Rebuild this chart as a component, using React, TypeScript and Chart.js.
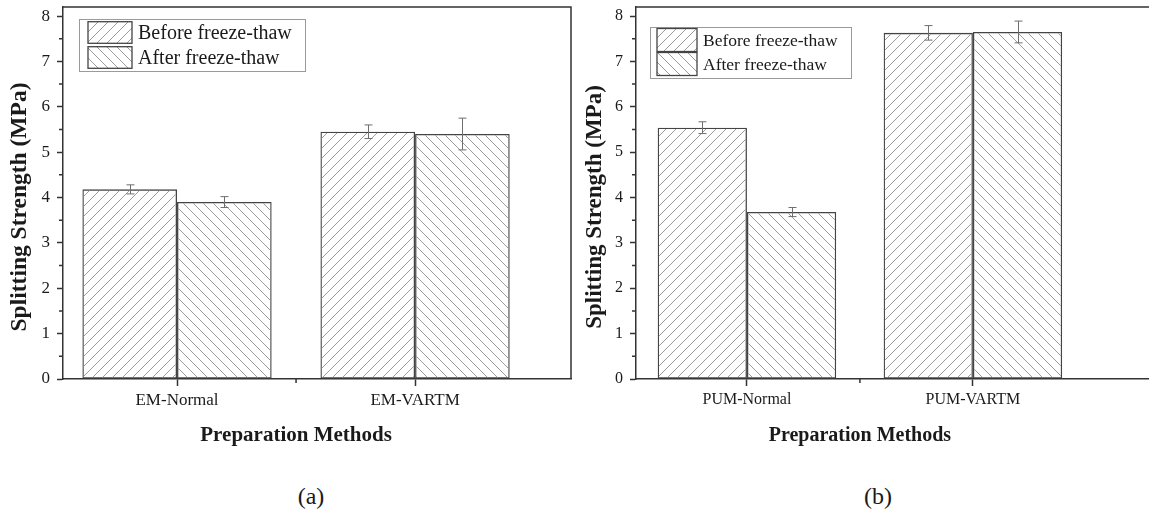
import React, { useEffect, useRef } from "react";
import { Chart, registerables } from "chart.js";
Chart.register(...registerables);

// ---------- data ----------
const seriesLabels = ["Before freeze-thaw", "After freeze-thaw"];
const yTickValues = [0, 1, 2, 3, 4, 5, 6, 7, 8];
const xAxisTitle = "Preparation Methods";
const yAxisTitle = "Splitting Strength (MPa)";

const catsA = ["EM-Normal", "EM-VARTM"];
const beforeA = [4.18, 5.45];
const beforeErrA = [0.1, 0.15];
const afterA = [3.9, 5.4];
const afterErrA = [0.12, 0.35];

const catsB = ["PUM-Normal", "PUM-VARTM"];
const beforeB = [5.54, 7.63];
const beforeErrB = [0.13, 0.16];
const afterB = [3.68, 7.65];
const afterErrB = [0.1, 0.24];

const panelLabels = ["(a)", "(b)"];

const FONT = '"Liberation Serif", "Times New Roman", serif';

function makeHatch(dir: number) {
  const s = 10;
  const c = document.createElement("canvas");
  c.width = s;
  c.height = s;
  const g = c.getContext("2d")!;
  g.strokeStyle = "#9c9c9c";
  g.lineWidth = 1;
  g.beginPath();
  for (const o of [-s, 0, s]) {
    if (dir > 0) {
      g.moveTo(o - 1, s + 1);
      g.lineTo(o + s + 1, -1);
    } else {
      g.moveTo(o - 1, -1);
      g.lineTo(o + s + 1, s + 1);
    }
  }
  g.stroke();
  return g.createPattern(c, "repeat")!;
}

const decor = {
  id: "decor",
  afterDatasetsDraw(chart: any, _args: any, opts: any) {
    const { ctx } = chart;
    const y = chart.scales.y;
    ctx.save();
    ctx.strokeStyle = "#6e6e6e";
    ctx.lineWidth = 1;
    opts.errors.forEach((errs: number[], di: number) => {
      const meta = chart.getDatasetMeta(di);
      meta.data.forEach((bar: any, j: number) => {
        const v = chart.data.datasets[di].data[j].y;
        const top = y.getPixelForValue(v + errs[j]);
        const bot = y.getPixelForValue(v - errs[j]);
        const cx = Math.round(bar.x) + 0.5;
        ctx.beginPath();
        ctx.moveTo(cx, top);
        ctx.lineTo(cx, bot);
        ctx.moveTo(cx - 4, top);
        ctx.lineTo(cx + 4, top);
        ctx.moveTo(cx - 4, bot);
        ctx.lineTo(cx + 4, bot);
        ctx.stroke();
      });
    });
    ctx.restore();
  },
  afterDraw(chart: any, _args: any, opts: any) {
    const { ctx, chartArea: a } = chart;
    const x = chart.scales.x;
    const y = chart.scales.y;
    ctx.save();
    // frame top/right
    ctx.strokeStyle = "#333";
    ctx.lineWidth = 1.5;
    ctx.beginPath();
    ctx.moveTo(a.left, a.top);
    ctx.lineTo(a.right, a.top);
    ctx.lineTo(a.right, a.bottom);
    ctx.stroke();
    // minor ticks
    ctx.beginPath();
    for (let i = 0; i < yTickValues.length - 1; i++) {
      const v = (yTickValues[i] + yTickValues[i + 1]) / 2;
      const py = y.getPixelForValue(v);
      ctx.moveTo(a.left - 4, py);
      ctx.lineTo(a.left, py);
    }
    for (let i = 1; i < opts.cats.length; i++) {
      const px = x.getPixelForValue(i + 0.5);
      ctx.moveTo(px, a.bottom);
      ctx.lineTo(px, a.bottom + 4);
    }
    ctx.stroke();
    // x title
    ctx.fillStyle = "#1a1a1a";
    ctx.font = `bold ${opts.xTitleSize}px ${FONT}`;
    ctx.textAlign = "center";
    ctx.textBaseline = "middle";
    ctx.fillText(xAxisTitle, x.getPixelForValue((opts.cats.length + 1) / 2), opts.xTitleY);
    // y title
    ctx.save();
    ctx.translate(opts.yTitleX, opts.yTitleY);
    ctx.rotate(-Math.PI / 2);
    ctx.font = `bold ${opts.yTitleSize}px ${FONT}`;
    ctx.fillText(yAxisTitle, 0, 0);
    ctx.restore();
    // legend
    const L = opts.legend;
    const bx = a.left + L.dx;
    const by = a.top + L.dy;
    ctx.strokeStyle = "#9a9a9a";
    ctx.lineWidth = 1;
    ctx.strokeRect(Math.round(bx) + 0.5, Math.round(by) + 0.5, L.w, L.h);
    chart.data.datasets.forEach((ds: any, i: number) => {
      const sx = bx + L.sx;
      const sy = by + L.swTop + i * L.rowH;
      ctx.fillStyle = ds.backgroundColor;
      ctx.fillRect(sx, sy, L.sw, L.sh);
      ctx.strokeStyle = "#444";
      ctx.lineWidth = 1.3;
      ctx.strokeRect(sx, sy, L.sw, L.sh);
      ctx.fillStyle = "#1a1a1a";
      ctx.font = `${L.font}px ${FONT}`;
      ctx.textAlign = "left";
      ctx.textBaseline = "middle";
      ctx.fillText(ds.label, bx + L.tx, sy + L.sh / 2 + 1);
    });
    ctx.restore();
  },
};

type PanelProps = {
  cats: string[];
  before: number[];
  beforeErr: number[];
  after: number[];
  afterErr: number[];
  width: number;
  height: number;
  chartLeft: number;
  padRight: number;
  xMin: number;
  xMax: number;
  catPct: number;
  tickSize: number;
  titleSize: number;
  yTitleSize: number;
  yTitleX: number;
  legend: any;
};

function Panel(p: PanelProps) {
  const ref = useRef<HTMLCanvasElement>(null);
  useEffect(() => {
    const canvas = ref.current!;
    const hatchA = makeHatch(1);
    const hatchB = makeHatch(-1);
    const chart = new Chart(canvas, {
      type: "bar",
      data: {
        datasets: [
          {
            label: seriesLabels[0],
            data: p.cats.map((_, i) => ({ x: i + 1, y: p.before[i] })),
            backgroundColor: hatchA as any,
            borderColor: "#444",
            borderWidth: 1.3,
            borderSkipped: false,
          },
          {
            label: seriesLabels[1],
            data: p.cats.map((_, i) => ({ x: i + 1, y: p.after[i] })),
            backgroundColor: hatchB as any,
            borderColor: "#444",
            borderWidth: 1.3,
            borderSkipped: false,
          },
        ],
      } as any,
      options: {
        responsive: false,
        animation: false,
        events: [],
        layout: { padding: { left: 0, right: p.padRight, top: 7, bottom: 0 } },
        datasets: { bar: { categoryPercentage: p.catPct, barPercentage: 1 } } as any,
        plugins: {
          legend: { display: false },
          tooltip: { enabled: false },
          decor: {
            errors: [p.beforeErr, p.afterErr],
            cats: p.cats,
            xTitleSize: p.titleSize,
            xTitleY: 436,
            yTitleSize: p.yTitleSize,
            yTitleX: p.yTitleX,
            yTitleY: 207,
            legend: p.legend,
          },
        } as any,
        scales: {
          x: {
            type: "linear",
            min: p.xMin,
            max: p.xMax,
            offset: false,
            afterFit: (s: any) => {
              s.height = p.height - 379;
              s.paddingLeft = 0;
              s.paddingRight = 0;
            },
            afterBuildTicks: (s: any) => {
              s.ticks = p.cats.map((_, i) => ({ value: i + 1 }));
            },
            ticks: {
              autoSkip: false,
              maxRotation: 0,
              padding: 4,
              color: "#1a1a1a",
              font: { family: FONT, size: p.tickSize },
              callback: (v: any) => p.cats[Number(v) - 1] ?? "",
            },
            grid: {
              display: true,
              offset: false,
              drawOnChartArea: false,
              drawTicks: true,
              tickLength: 7,
              tickColor: "#333",
              tickWidth: 1.5,
            },
            border: { display: true, color: "#333", width: 1.5 },
          },
          y: {
            type: "linear",
            min: 0,
            max: 8.2,
            afterFit: (s: any) => {
              s.width = p.chartLeft;
              s.paddingTop = 0;
              s.paddingBottom = 0;
            },
            afterBuildTicks: (s: any) => {
              s.ticks = yTickValues.map((v) => ({ value: v }));
            },
            ticks: {
              padding: 7,
              color: "#1a1a1a",
              font: { family: FONT, size: p.tickSize },
              callback: (v: any) => String(v),
            },
            grid: {
              display: true,
              drawOnChartArea: false,
              drawTicks: true,
              tickLength: 6,
              tickColor: "#333",
              tickWidth: 1.5,
            },
            border: { display: true, color: "#333", width: 1.5 },
          },
        },
      } as any,
      plugins: [decor as any],
    });
    return () => chart.destroy();
  }, []);
  return (
    <canvas
      ref={ref}
      width={p.width}
      height={p.height}
      style={{ width: p.width, height: p.height, display: "block" }}
    />
  );
}

export default function App() {
  return (
    <div
      style={{
        position: "absolute",
        left: 0,
        top: 0,
        width: 1149,
        height: 514,
        overflow: "hidden",
        background: "#fff",
      }}
    >
      <div style={{ position: "absolute", left: 0, top: 0 }}>
        <Panel
          cats={catsA}
          before={beforeA}
          beforeErr={beforeErrA}
          after={afterA}
          afterErr={afterErrA}
          width={575}
          height={460}
          chartLeft={63}
          padRight={4}
          xMin={0.521}
          xMax={2.655}
          catPct={0.795}
          tickSize={17}
          titleSize={21}
          yTitleSize={23.5}
          yTitleX={20}
          legend={{ dx: 16, dy: 12, w: 226, h: 52, sx: 9, sw: 44, swTop: 2.7, sh: 21.6, rowH: 25, tx: 59, font: 20 }}
        />
      </div>
      <div style={{ position: "absolute", left: 575, top: 0 }}>
        <Panel
          cats={catsB}
          before={beforeB}
          beforeErr={beforeErrB}
          after={afterB}
          afterErr={afterErrB}
          width={600}
          height={460}
          chartLeft={61}
          padRight={15}
          xMin={0.509}
          xMax={2.828}
          catPct={0.79}
          tickSize={16}
          titleSize={20}
          yTitleSize={23}
          yTitleX={20}
          legend={{ dx: 14, dy: 20, w: 201, h: 51, sx: 7, sw: 40, swTop: 1.5, sh: 23, rowH: 24, tx: 53, font: 17.5 }}
        />
      </div>
      {panelLabels.map((t, i) => (
        <div
          key={t}
          style={{
            position: "absolute",
            left: i === 0 ? 311 : 878,
            top: 496,
            transform: "translate(-50%, -50%)",
            fontFamily: FONT,
            fontSize: 24,
            color: "#1a1a1a",
            whiteSpace: "nowrap",
          }}
        >
          {t}
        </div>
      ))}
    </div>
  );
}
